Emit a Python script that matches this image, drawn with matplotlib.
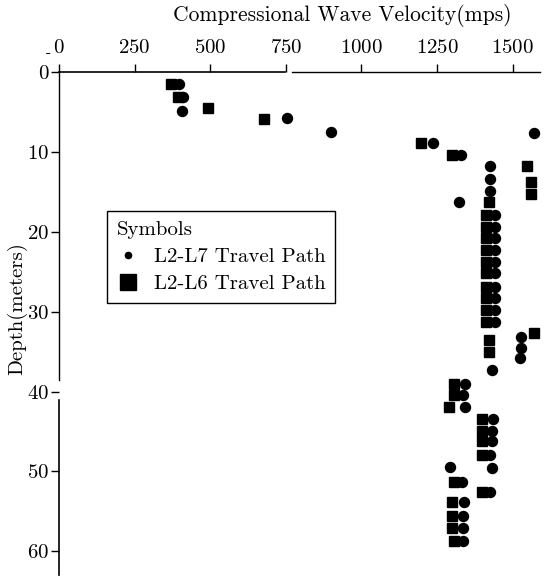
import matplotlib
matplotlib.use("Agg")
import matplotlib.pyplot as plt
from matplotlib.lines import Line2D

plt.rcParams['font.family'] = ['cmr10', 'DejaVu Serif']
plt.rcParams['axes.formatter.use_mathtext'] = True

# L2-L7 travel path (circles): velocity in m/s, depth in m
l7_velocity = [395, 411, 405, 754, 899, 1235, 1328, 1569, 1324,
               1425, 1425, 1425,
               1440, 1440, 1440, 1440, 1440, 1440, 1440, 1440, 1440, 1440,
               1430, 1527, 1526, 1524,
               1341, 1335, 1344, 1292, 1331, 1338, 1335, 1335, 1335,
               1435, 1430, 1430, 1425, 1430, 1425]
l7_depth = [1.5, 3.1, 4.8, 5.7, 7.5, 8.9, 10.4, 7.6, 16.2,
            11.7, 13.4, 14.9,
            17.9, 19.4, 20.8, 22.3, 23.8, 25.2, 26.9, 28.3, 29.8, 31.3,
            37.3, 33.2, 34.6, 35.8,
            39.0, 40.4, 42.0, 49.5, 51.3, 53.9, 55.6, 57.1, 58.7,
            43.4, 44.9, 46.2, 48.0, 49.6, 52.6]

# L2-L6 travel path (squares)
l6_velocity = [369, 392, 494, 679, 1196, 1301,
               1549, 1562, 1562, 1569,
               1423, 1412, 1412, 1412, 1412, 1412, 1412, 1412, 1412, 1412, 1412,
               1423, 1423,
               1305, 1305, 1291, 1305, 1301, 1301, 1301, 1305,
               1400, 1400, 1400, 1400, 1400]
l6_depth = [1.5, 3.1, 4.5, 5.9, 8.9, 10.4,
            11.8, 13.8, 15.2, 32.7,
            16.3, 17.9, 19.4, 20.8, 22.3, 23.8, 25.2, 26.9, 28.3, 29.8, 31.3,
            33.5, 35.0,
            39.0, 40.4, 42.0, 51.3, 53.9, 55.6, 57.1, 58.7,
            43.4, 44.9, 46.2, 48.0, 52.6]

x_ticks = [0, 250, 500, 750, 1000, 1250, 1500]
y_ticks = [0, 10, 20, 30, 40, 50, 60]

fig = plt.figure(figsize=(5.47, 5.78), dpi=100)
ax = fig.add_axes([0.108, 0.005, 0.879, 0.870])

ax.plot(l7_velocity, l7_depth, 'o', color='black', markersize=7.2, clip_on=False)
ax.plot(l6_velocity, l6_depth, 's', color='black', markersize=6.8, clip_on=False)

ax.set_xlim(0, 1590)
ax.set_ylim(63, 0)

# axes drawn by hand so the broken segments show
for s in ax.spines.values():
    s.set_visible(False)
ax.plot([0, 748], [0, 0], color='black', lw=1.2, clip_on=False)
ax.plot([770, 1590], [0, 0], color='black', lw=1.0, clip_on=False)
ax.plot([0, 0], [0, 38.5], color='black', lw=1.0, clip_on=False)
ax.plot([0, 0], [41, 63], color='black', lw=1.2, clip_on=False)

ax.xaxis.tick_top()
ax.set_xticks(x_ticks)
ax.set_yticks(y_ticks)
ax.tick_params(axis='x', direction='out', length=6, width=1, pad=5, labelsize=15)
ax.tick_params(axis='y', direction='out', length=6, width=1, pad=1, labelsize=15)

fig.text(0.625, 0.974, 'Compressional Wave Velocity(mps)', ha='center', va='center', fontsize=15.5)
fig.text(0.031, 0.467, 'Depth(meters)', rotation=90, ha='center', va='center', fontsize=15)
fig.text(0.088, 0.908, '-', ha='center', va='center', fontsize=11)

handles = [Line2D([], [], ls='none', marker='o', color='black', markersize=4.5),
           Line2D([], [], ls='none', marker='s', color='black', markersize=11)]
leg = ax.legend(handles, ['L2-L7 Travel Path', 'L2-L6 Travel Path'],
                title='Symbols', title_fontsize=15, fontsize=15, alignment='left',
                loc='upper left', bbox_to_anchor=(0.0998, 0.7237),
                frameon=True, fancybox=False, edgecolor='black', framealpha=1,
                handlelength=1.1, handletextpad=0.7, borderpad=0.45, labelspacing=0.42,
                borderaxespad=0)
leg.get_frame().set_linewidth(1.0)

fig.savefig('out.png', dpi=100)
